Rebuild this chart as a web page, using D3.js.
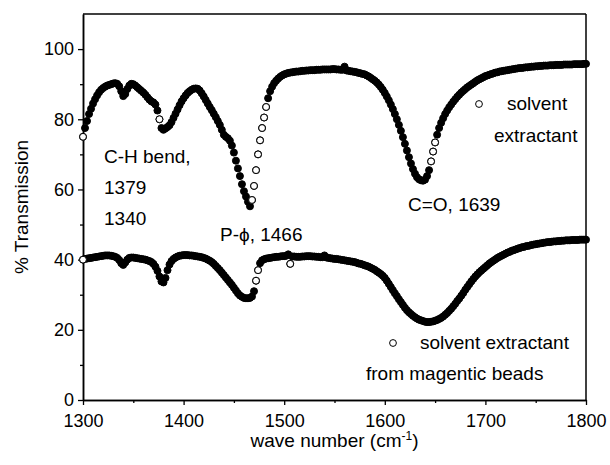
<!DOCTYPE html>
<html><head><meta charset="utf-8">
<script src="https://cdn.jsdelivr.net/npm/d3@7"></script>
<style>
html,body{margin:0;padding:0;background:#fff;}
svg{display:block;}
text{font-family:"Liberation Sans",Arial,sans-serif;fill:#000;}
</style></head>
<body>
<svg id="chart" width="610" height="465"></svg>
<script>
const wavenumbers = [
1300,1302,1304,1306,1308,1310,1312,1314,1316,1318,
1320,1322,1324,1326,1328,1330,1332,1334,1336,1338,
1340,1342,1344,1346,1348,1350,1352,1354,1356,1358,
1360,1362,1364,1366,1368,1370,1372,1374,1376,1378,
1380,1382,1384,1386,1388,1390,1392,1394,1396,1398,
1400,1402,1404,1406,1408,1410,1412,1414,1416,1418,
1420,1422,1424,1426,1428,1430,1432,1434,1436,1438,
1440,1442,1444,1446,1448,1450,1452,1454,1456,1458,
1460,1462,1464,1466,1468,1470,1472,1474,1476,1478,
1480,1482,1484,1486,1488,1490,1492,1494,1496,1498,
1500,1502,1504,1506,1508,1510,1512,1514,1516,1518,
1520,1522,1524,1526,1528,1530,1532,1534,1536,1538,
1540,1542,1544,1546,1548,1550,1552,1554,1556,1558,
1560,1562,1564,1566,1568,1570,1572,1574,1576,1578,
1580,1582,1584,1586,1588,1590,1592,1594,1596,1598,
1600,1602,1604,1606,1608,1610,1612,1614,1616,1618,
1620,1622,1624,1626,1628,1630,1632,1634,1636,1638,
1640,1642,1644,1646,1648,1650,1652,1654,1656,1658,
1660,1662,1664,1666,1668,1670,1672,1674,1676,1678,
1680,1682,1684,1686,1688,1690,1692,1694,1696,1698,
1700,1702,1704,1706,1708,1710,1712,1714,1716,1718,
1720,1722,1724,1726,1728,1730,1732,1734,1736,1738,
1740,1742,1744,1746,1748,1750,1752,1754,1756,1758,
1760,1762,1764,1766,1768,1770,1772,1774,1776,1778,
1780,1782,1784,1786,1788,1790,1792,1794,1796,1798,
1800];

// % Transmission, solvent extractant
const transSolvent = [
75,77.5,79.5,81.5,83,84.5,85.7,86.8,87.7,88.4,
88.9,89.3,89.6,89.8,90,90.2,90.3,90.1,89.4,88,
86.6,87.2,88.6,89.6,90.1,90,89.6,89.1,88.6,88.1,
87.6,87,86.3,85.6,85.1,84.8,84.2,82.5,80,77.5,
77,77.4,77.8,78.3,79.2,80.4,81.6,82.8,84,85.1,
86,86.8,87.5,88,88.4,88.7,88.8,88.7,88.2,87.4,
86.5,85.5,84.5,83.5,82.6,81.6,80.6,79.5,78.4,77,
75.6,75,74.6,73.9,72.5,70.5,68.2,66,63.8,61.5,
59.5,58,56.5,55.2,57,61,65.5,70,74,77.5,
80.5,83.5,86,88,89.3,90.3,91,91.6,92.1,92.5,
92.8,93,93.2,93.3,93.4,93.5,93.6,93.6,93.7,93.8,
93.8,93.9,93.9,94,94,94,94.1,94.1,94.1,94.2,
94.2,94.2,94.2,94.2,94.3,94.3,94.2,94.2,94.1,94.1,
95,93.9,93.8,93.7,93.6,93.5,93.4,93.2,93.1,92.9,
92.8,92.5,92.2,91.8,91.4,91,90.5,89.9,89.2,88.4,
87.5,86.5,85.4,84.2,82.9,81.5,80,78.4,76.7,74.9,
73,71.1,69.2,67.4,65.8,64.5,63.5,62.9,62.6,62.5,
62.8,63.8,65.5,68,70.8,73.4,75.6,77.5,79,80.3,
81.5,82.5,83.4,84.2,85,85.7,86.4,87,87.6,88.1,
88.6,89.1,89.5,89.9,90.3,90.7,91.1,91.4,91.7,92,
92.3,92.5,92.7,92.9,93.1,93.3,93.4,93.6,93.7,93.8,
93.9,94,94.1,94.2,94.3,94.4,94.5,94.6,94.6,94.7,
94.8,94.8,94.9,95,95,95.1,95.1,95.2,95.2,95.3,
95.3,95.3,95.4,95.4,95.4,95.5,95.5,95.5,95.5,95.6,
95.6,95.6,95.6,95.6,95.7,95.7,95.7,95.7,95.7,95.8,
95.8];

// % Transmission, solvent extractant from magnetic beads
const transBeads = [
40,40.2,40.3,40.4,40.5,40.6,40.7,40.8,40.9,41,
41.1,41.2,41.2,41.2,41.1,41,40.8,40.5,39.9,39,
38.5,39.2,40,40.5,40.6,40.6,40.5,40.4,40.3,40.2,
40.1,40,39.8,39.6,39.3,38.8,38,36.8,35.2,33.8,
33.5,34.8,37,38.6,39.6,40.2,40.6,40.9,41.1,41.2,
41.3,41.3,41.3,41.2,41.2,41.1,41,40.9,40.8,40.7,
40.5,40.3,40,39.7,39.3,38.8,38.2,37.6,37,36.3,
35.6,34.9,34.2,33.5,32.8,32,31.2,30.4,29.8,29.4,
29.1,29,29,29.1,29.5,31,34,37,39,39.8,
40.1,40.3,40.4,40.5,40.6,40.7,40.8,40.8,40.9,41,
41,41.1,41.5,38.8,40.9,40.9,40.8,40.8,40.8,40.9,
40.9,41,41,41,40.9,40.9,40.8,40.8,40.7,40.7,
41.2,40.6,40.5,40.4,40.3,40.2,40.2,40.1,40,39.9,
39.8,39.7,39.6,39.5,39.4,39.3,39.1,38.9,38.8,38.6,
38.4,38.2,38,37.7,37.4,37.1,36.7,36.3,35.9,35.4,
34.8,34,33.1,32.2,31.3,30.4,29.6,28.7,27.9,27.1,
26.3,25.6,25,24.5,24,23.6,23.2,22.9,22.7,22.5,
22.3,22.2,22.2,22.3,22.4,22.6,22.8,23.1,23.4,23.8,
24.3,24.8,25.4,26,26.7,27.4,28.2,28.9,29.7,30.5,
31.4,32.2,33,33.8,34.5,35.2,35.8,36.4,36.9,37.4,
37.9,38.4,38.9,39.3,39.7,40.1,40.5,40.8,41.1,41.4,
41.7,42,42.2,42.5,42.7,42.9,43.1,43.3,43.5,43.6,
43.8,43.9,44,44.2,44.3,44.4,44.5,44.6,44.7,44.8,
44.9,45,45,45.1,45.2,45.2,45.3,45.3,45.4,45.4,
45.5,45.5,45.5,45.6,45.6,45.6,45.6,45.7,45.7,45.7,
45.7];

const xTickValues = [1300,1400,1500,1600,1700,1800];
const xMinorTicks = [1350,1450,1550,1650,1750];
const yTickValues = [0,20,40,60,80,100];
const yMinorTicks = [10,30,50,70,90];

const svg = d3.select("#chart");
const margin = {left:83, right:24, top:14, bottom:65};
const W = 610, H = 465;
const x = d3.scaleLinear().domain([1300,1800]).range([margin.left, W - margin.right]);
const y = d3.scaleLinear().domain([0,110]).range([H - margin.bottom, margin.top]);
const FS = 18, FT = 19;

// frame top & right
svg.append("line").attr("x1", x(1300)).attr("x2", x(1800)).attr("y1", y(110)).attr("y2", y(110))
  .attr("stroke","#000").attr("stroke-width",1.5);
svg.append("line").attr("x1", x(1800)).attr("x2", x(1800)).attr("y1", y(110)).attr("y2", y(0))
  .attr("stroke","#000").attr("stroke-width",1.5);

function styleAxis(g){
  g.select(".domain").attr("stroke","#000").attr("stroke-width",1.5);
  g.selectAll(".tick line").attr("stroke","#000").attr("stroke-width",1.3);
  g.selectAll(".tick text").attr("font-size",FS).attr("font-family",'"Liberation Sans",Arial,sans-serif');
}

const gxMinor = svg.append("g").attr("transform",`translate(0,${y(0)})`)
  .call(d3.axisBottom(x).tickValues(xMinorTicks).tickSize(3).tickSizeOuter(0).tickFormat(""));
styleAxis(gxMinor);
const gx = svg.append("g").attr("transform",`translate(0,${y(0)})`)
  .call(d3.axisBottom(x).tickValues(xTickValues).tickSize(5).tickSizeOuter(0).tickPadding(9).tickFormat(d3.format("d")));
styleAxis(gx);

const gyMinor = svg.append("g").attr("transform",`translate(${x(1300)},0)`)
  .call(d3.axisLeft(y).tickValues(yMinorTicks).tickSize(3).tickSizeOuter(0).tickFormat(""));
styleAxis(gyMinor);
const gy = svg.append("g").attr("transform",`translate(${x(1300)},0)`)
  .call(d3.axisLeft(y).tickValues(yTickValues).tickSize(5).tickSizeOuter(0).tickPadding(4).tickFormat(d3.format("d")));
styleAxis(gy);

// axis titles
const xt = svg.append("text").attr("x", (x(1300)+x(1800))/2).attr("y", 447)
  .attr("text-anchor","middle").attr("font-size",FT);
xt.append("tspan").text("wave number (cm");
xt.append("tspan").attr("font-size",12).attr("dy",-7).text("-1");
xt.append("tspan").attr("dy",7).text(")");

svg.append("text").attr("transform",`translate(28,${(y(0)+y(110))/2}) rotate(-90)`)
  .attr("text-anchor","middle").attr("font-size",FT).text("% Transmission");

// data series: dense circle symbols read as a solid band where they overlap;
// where the curve is steep the individual open circles show.
function drawSeries(vals){
  const pts = wavenumbers.map((w,i)=>({w, v: vals[i], i}));
  const step = i => {
    const a = i>0 ? Math.abs(y(vals[i]) - y(vals[i-1])) : null;
    const b = i<vals.length-1 ? Math.abs(y(vals[i+1]) - y(vals[i])) : null;
    if (a === null) return 99;
    if (b === null) return a;
    return (a+b)/2;
  };
  const g = svg.append("g");
  g.selectAll("circle.solid").data(pts).join("circle").attr("class","solid")
    .attr("cx", d=>x(d.w)).attr("cy", d=>y(d.v)).attr("r",3.5)
    .attr("fill","#000").attr("stroke","#000").attr("stroke-width",1);
  g.selectAll("circle.open").data(pts.filter(d=>step(d.i) > 8.2)).join("circle").attr("class","open")
    .attr("cx", d=>x(d.w)).attr("cy", d=>y(d.v)).attr("r",3.4)
    .attr("fill","#fff").attr("stroke","#000").attr("stroke-width",1);
}
drawSeries(transBeads);
drawSeries(transSolvent);

// annotations
function label(txt, px, py, fs){
  svg.append("text").attr("x",px).attr("y",py).attr("font-size",fs||FT).text(txt);
}
label("C-H bend,", 104, 163);
label("1379", 104, 194);
label("1340", 104, 225);
label("P-\u03D5, 1466", 220, 241);
label("C=O, 1639", 408, 211);

// legends
function legendMark(px, py){
  svg.append("circle").attr("cx",px).attr("cy",py).attr("r",3.4)
    .attr("fill","#fff").attr("stroke","#000").attr("stroke-width",1);
}
legendMark(479, 104);
label("solvent", 507, 110);
label("extractant", 494, 142);
legendMark(393, 343);
label("solvent extractant", 420, 349);
label("from magentic beads", 366, 380);
</script>
</body></html>
